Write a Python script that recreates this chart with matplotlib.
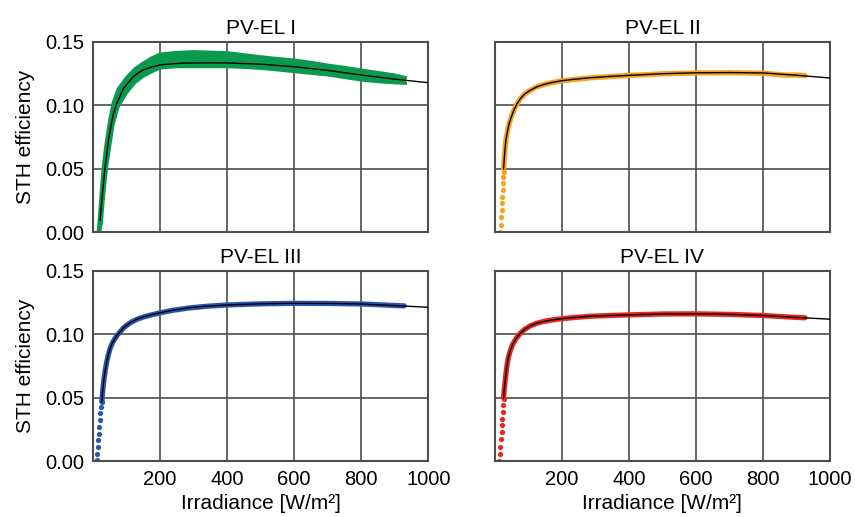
import matplotlib
matplotlib.use("Agg")
import matplotlib.pyplot as plt
from matplotlib.ticker import FormatStrFormatter

plt.rcParams['font.family'] = ['Liberation Sans', 'DejaVu Sans']
plt.rcParams['font.size'] = 15

# ---- PV-EL I (wide scatter band) ----
band1_x = [16, 20, 25, 30, 35, 40, 50, 60, 75, 100, 125, 150, 175, 200, 250, 300, 350,
           400, 450, 500, 550, 600, 650, 700, 750, 800, 850, 900, 932]
band1_lo = [0.0, 0.0, 0.008, 0.024, 0.038, 0.050, 0.068, 0.085, 0.099, 0.110, 0.118,
            0.123, 0.1265, 0.1295, 0.1305, 0.1305, 0.1305, 0.1305, 0.130, 0.1292, 0.128,
            0.1266, 0.1253, 0.124, 0.122, 0.120, 0.1187, 0.1178, 0.1174]
band1_hi = [0.002, 0.016, 0.034, 0.050, 0.062, 0.072, 0.089, 0.102, 0.113, 0.122, 0.129,
            0.1335, 0.1375, 0.1405, 0.1418, 0.1424, 0.142, 0.1416, 0.140, 0.1384, 0.137,
            0.1358, 0.134, 0.1318, 0.130, 0.1279, 0.126, 0.124, 0.122]
fit1_x = [21, 25, 29, 32, 36, 41, 46, 53, 61, 71, 80, 91, 105, 120, 135, 150, 175, 200,
          240, 280, 350, 400, 500, 600, 700, 800, 900, 1000]
fit1_y = [0.0095, 0.022, 0.033, 0.041, 0.0515, 0.062, 0.0726, 0.083, 0.0937, 0.1016,
          0.107, 0.1135, 0.118, 0.1226, 0.1256, 0.128, 0.1303, 0.1319, 0.1329, 0.1334,
          0.1336, 0.1335, 0.1325, 0.1305, 0.1276, 0.1240, 0.1207, 0.1179]

# ---- PV-EL II ----
dots2_x = [16, 18, 18, 20, 21, 22, 23, 24, 25, 26]
dots2_y = [0.0005, 0.0058, 0.0123, 0.0176, 0.0228, 0.0281, 0.0334, 0.0386, 0.0439, 0.0478]
meas2_x = [26, 29, 33, 38, 43, 50, 57, 66, 77, 90, 107, 125, 147, 170, 201, 240, 284, 340,
           400, 500, 600, 700, 800, 840, 870, 900, 925]
meas2_y = [0.050, 0.061, 0.0726, 0.080, 0.0858, 0.0915, 0.0963, 0.1012, 0.1056, 0.1092,
           0.1121, 0.1146, 0.1165, 0.118, 0.1194, 0.1206, 0.1217, 0.1227, 0.1236, 0.1249,
           0.1256, 0.1258, 0.1254, 0.1245, 0.1238, 0.1240, 0.1235]
fit2_x = [26, 29, 33, 38, 43, 50, 57, 66, 77, 90, 107, 125, 147, 170, 201, 240, 284, 340,
          400, 500, 600, 700, 800, 900, 1000]
fit2_y = [0.050, 0.061, 0.0726, 0.080, 0.0858, 0.0915, 0.0963, 0.1012, 0.1056, 0.1092,
          0.1121, 0.1146, 0.1166, 0.1181, 0.1195, 0.1207, 0.1218, 0.1228, 0.1237, 0.1250,
          0.1257, 0.1259, 0.1256, 0.1238, 0.1216]

# ---- PV-EL III ----
dots3_x = [11, 13, 15, 16, 18, 19, 21, 22, 24, 26]
dots3_y = [0.0008, 0.0061, 0.0114, 0.0166, 0.0219, 0.0272, 0.0324, 0.0377, 0.043, 0.0469]
meas3_x = [26, 29, 33, 37, 41, 46, 51, 58, 66, 73, 81, 90, 101, 115, 131, 150, 170, 200,
           240, 288, 340, 400, 500, 600, 700, 800, 900, 928]
meas3_y = [0.047, 0.056, 0.0655, 0.0725, 0.0785, 0.0843, 0.089, 0.0935, 0.0969, 0.0997,
           0.1021, 0.1049, 0.1073, 0.1098, 0.1119, 0.1137, 0.1151, 0.117, 0.1191, 0.1209,
           0.1222, 0.1232, 0.1241, 0.1245, 0.1244, 0.1240, 0.1228, 0.1225]
fit3_x = [26, 29, 33, 37, 41, 46, 51, 58, 66, 73, 81, 90, 101, 115, 131, 150, 170, 200,
          240, 288, 340, 400, 500, 600, 700, 800, 900, 1000]
fit3_y = [0.047, 0.056, 0.0655, 0.0725, 0.0785, 0.0843, 0.089, 0.0935, 0.0969, 0.0997,
          0.1021, 0.105, 0.1074, 0.1099, 0.112, 0.1138, 0.1152, 0.1171, 0.1192, 0.121,
          0.1223, 0.1232, 0.1241, 0.1245, 0.1244, 0.1240, 0.1227, 0.1214]

# ---- PV-EL IV ----
dots4_x = [13, 15, 17, 18, 20, 21, 22, 23, 24, 26]
dots4_y = [0.0, 0.0061, 0.0114, 0.0179, 0.0232, 0.0284, 0.0337, 0.039, 0.0442, 0.0495]
meas4_x = [26, 29, 33, 36, 40, 46, 53, 64, 77, 90, 107, 125, 147, 170, 201, 240, 284, 340,
           400, 500, 600, 700, 800, 900, 925]
meas4_y = [0.050, 0.059, 0.0683, 0.075, 0.0814, 0.087, 0.092, 0.097, 0.1011, 0.1042,
           0.1069, 0.1088, 0.1103, 0.1114, 0.1124, 0.1134, 0.1143, 0.1149, 0.1154, 0.1161,
           0.1162, 0.1158, 0.1149, 0.1134, 0.1131]
fit4_x = [26, 29, 33, 36, 40, 46, 53, 64, 77, 90, 107, 125, 147, 170, 201, 240, 284, 340,
          400, 500, 600, 700, 800, 900, 1000]
fit4_y = [0.050, 0.059, 0.0683, 0.075, 0.0814, 0.087, 0.092, 0.097, 0.1011, 0.1042,
          0.1069, 0.1088, 0.1103, 0.1114, 0.1124, 0.1134, 0.1143, 0.1149, 0.1154, 0.1161,
          0.1162, 0.1158, 0.1149, 0.1134, 0.112]

titles = ['PV-EL I', 'PV-EL II', 'PV-EL III', 'PV-EL IV']
colors = ['#0a9a4f', '#f7a21b', '#2855b0', '#e8261c']

fig, axes = plt.subplots(2, 2, figsize=(8.55, 5.17), dpi=100, sharex=True, sharey=True)
fig.subplots_adjust(left=0.1088, right=0.9708, top=0.9188, bottom=0.1077,
                    wspace=0.1985, hspace=0.203)

# panel I: dense noisy scatter shown as a band with soft edges
ax = axes[0, 0]
ax.fill_between(band1_x, band1_lo, band1_hi, color=colors[0], lw=0, zorder=2)
ax.plot(band1_x, band1_hi, color=colors[0], lw=2.2, zorder=2)
ax.plot(band1_x, band1_lo, color=colors[0], lw=2.2, zorder=2)
ax.plot(fit1_x, fit1_y, color='black', lw=1.0, zorder=3)

others = [(axes[0, 1], dots2_x, dots2_y, meas2_x, meas2_y, fit2_x, fit2_y, colors[1]),
          (axes[1, 0], dots3_x, dots3_y, meas3_x, meas3_y, fit3_x, fit3_y, colors[2]),
          (axes[1, 1], dots4_x, dots4_y, meas4_x, meas4_y, fit4_x, fit4_y, colors[3])]
for ax, dx, dy, mx, my, fx, fy, c in others:
    ax.scatter(dx, dy, s=14, color=c, lw=0, zorder=2)
    ax.plot(mx, my, color=c, lw=3.8, solid_capstyle='round', zorder=2)
    ax.plot(fx, fy, color='black', lw=1.0, zorder=3)

for i, ax in enumerate(axes.flat):
    ax.set_title(titles[i], fontsize=15, pad=6)
    ax.set_xlim(0, 1000)
    ax.set_ylim(0, 0.15)
    ax.set_xticks([200, 400, 600, 800, 1000])
    ax.set_yticks([0, 0.05, 0.10, 0.15])
    ax.yaxis.set_major_formatter(FormatStrFormatter('%.2f'))
    ax.grid(True, color='#4d4d4d', lw=1.2, zorder=1)
    ax.set_axisbelow(True)
    ax.tick_params(length=0, pad=6, labelsize=14.5)
    for sp in ax.spines.values():
        sp.set_color('#4d4d4d')
        sp.set_linewidth(1.5)

for ax in axes[:, 0]:
    ax.set_ylabel('STH efficiency', fontsize=15, labelpad=8)
for ax in axes[1, :]:
    ax.set_xlabel('Irradiance [W/m²]', fontsize=15, labelpad=4)

fig.savefig('out.png', dpi=100)
